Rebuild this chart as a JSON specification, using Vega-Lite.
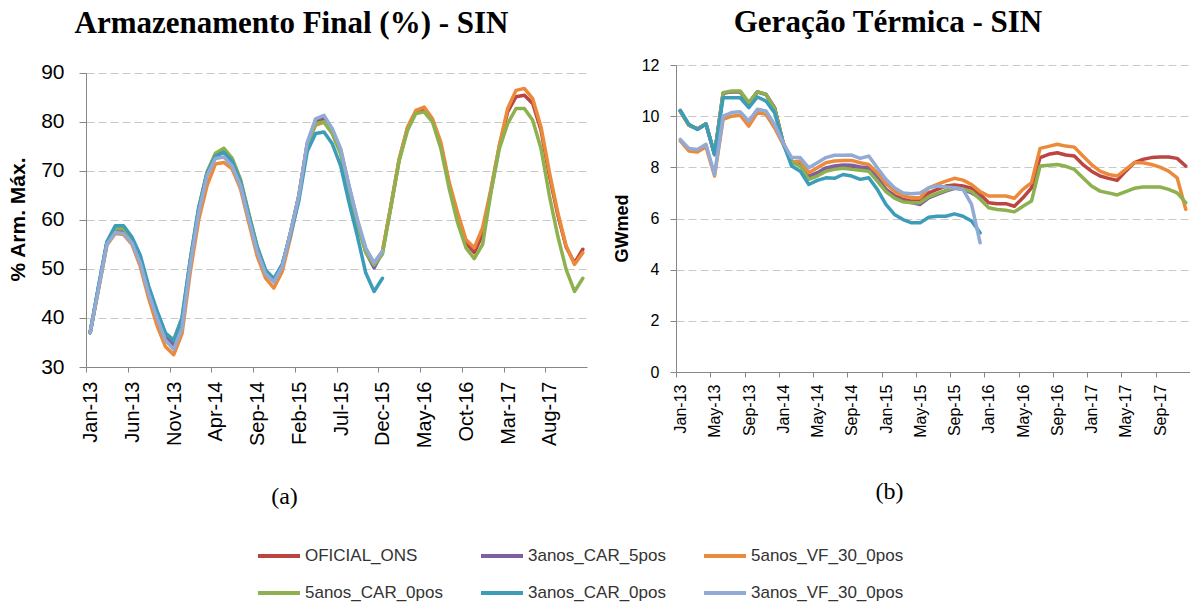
{
  "$schema": "https://vega.github.io/schema/vega-lite/v6.json",
  "padding": {"left": 7, "top": 7, "right": 0, "bottom": 0},
  "spacing": 26,
  "align": "none",
  "bounds": "full",
  "config": {
    "view": {"stroke": null},
    "font": "Liberation Sans",
    "axis": {"domainColor": "#868686", "tickColor": "#868686", "gridColor": "#C8C8C8", "gridDash": [8, 4], "labelColor": "#000000", "titleColor": "#000000", "labelFont": "Liberation Sans", "titleFont": "Liberation Sans"},
    "title": {"font": "Liberation Serif", "fontSize": 31, "fontWeight": "bold", "color": "#000000", "anchor": "middle", "baseline": "alphabetic", "frame": "group"}
  },
  "resolve": {"scale": {"x": "independent", "y": "independent", "color": "shared"}, "legend": {"color": "shared"}},
  "datasets": {
    "arm": [
      {"s":"OFICIAL_ONS","m":0,"v":37.0},{"s":"OFICIAL_ONS","m":1,"v":46.2},{"s":"OFICIAL_ONS","m":2,"v":55.3},{"s":"OFICIAL_ONS","m":3,"v":57.8},{"s":"OFICIAL_ONS","m":4,"v":57.6},{"s":"OFICIAL_ONS","m":5,"v":55.8},{"s":"OFICIAL_ONS","m":6,"v":51.8},{"s":"OFICIAL_ONS","m":7,"v":45.8},{"s":"OFICIAL_ONS","m":8,"v":40.8},{"s":"OFICIAL_ONS","m":9,"v":36.2},{"s":"OFICIAL_ONS","m":10,"v":34.5},{"s":"OFICIAL_ONS","m":11,"v":39.0},
      {"s":"OFICIAL_ONS","m":12,"v":51.5},{"s":"OFICIAL_ONS","m":13,"v":62.0},{"s":"OFICIAL_ONS","m":14,"v":69.5},{"s":"OFICIAL_ONS","m":15,"v":73.0},{"s":"OFICIAL_ONS","m":16,"v":73.8},{"s":"OFICIAL_ONS","m":17,"v":72.0},{"s":"OFICIAL_ONS","m":18,"v":67.8},{"s":"OFICIAL_ONS","m":19,"v":60.8},{"s":"OFICIAL_ONS","m":20,"v":54.0},{"s":"OFICIAL_ONS","m":21,"v":49.3},{"s":"OFICIAL_ONS","m":22,"v":47.5},{"s":"OFICIAL_ONS","m":23,"v":50.6},
      {"s":"OFICIAL_ONS","m":24,"v":57.4},{"s":"OFICIAL_ONS","m":25,"v":65.0},{"s":"OFICIAL_ONS","m":26,"v":75.4},{"s":"OFICIAL_ONS","m":27,"v":80.0},{"s":"OFICIAL_ONS","m":28,"v":80.6},{"s":"OFICIAL_ONS","m":29,"v":78.0},{"s":"OFICIAL_ONS","m":30,"v":73.8},{"s":"OFICIAL_ONS","m":31,"v":66.5},{"s":"OFICIAL_ONS","m":32,"v":59.5},{"s":"OFICIAL_ONS","m":33,"v":53.8},{"s":"OFICIAL_ONS","m":34,"v":51.0},{"s":"OFICIAL_ONS","m":35,"v":53.4},
      {"s":"OFICIAL_ONS","m":36,"v":62.6},{"s":"OFICIAL_ONS","m":37,"v":72.2},{"s":"OFICIAL_ONS","m":38,"v":78.6},{"s":"OFICIAL_ONS","m":39,"v":82.0},{"s":"OFICIAL_ONS","m":40,"v":82.6},{"s":"OFICIAL_ONS","m":41,"v":80.3},{"s":"OFICIAL_ONS","m":42,"v":75.3},{"s":"OFICIAL_ONS","m":43,"v":67.2},{"s":"OFICIAL_ONS","m":44,"v":60.8},{"s":"OFICIAL_ONS","m":45,"v":55.3},{"s":"OFICIAL_ONS","m":46,"v":53.3},{"s":"OFICIAL_ONS","m":47,"v":57.0},
      {"s":"OFICIAL_ONS","m":48,"v":66.0},{"s":"OFICIAL_ONS","m":49,"v":75.0},{"s":"OFICIAL_ONS","m":50,"v":82.0},{"s":"OFICIAL_ONS","m":51,"v":85.1},{"s":"OFICIAL_ONS","m":52,"v":85.4},{"s":"OFICIAL_ONS","m":53,"v":83.7},{"s":"OFICIAL_ONS","m":54,"v":78.2},{"s":"OFICIAL_ONS","m":55,"v":69.0},{"s":"OFICIAL_ONS","m":56,"v":61.0},{"s":"OFICIAL_ONS","m":57,"v":54.5},{"s":"OFICIAL_ONS","m":58,"v":51.2},{"s":"OFICIAL_ONS","m":59,"v":54.0},

      {"s":"3anos_CAR_5pos","m":0,"v":37.0},{"s":"3anos_CAR_5pos","m":1,"v":46.2},{"s":"3anos_CAR_5pos","m":2,"v":55.2},{"s":"3anos_CAR_5pos","m":3,"v":57.6},{"s":"3anos_CAR_5pos","m":4,"v":57.4},{"s":"3anos_CAR_5pos","m":5,"v":55.6},{"s":"3anos_CAR_5pos","m":6,"v":51.6},{"s":"3anos_CAR_5pos","m":7,"v":45.5},{"s":"3anos_CAR_5pos","m":8,"v":40.5},{"s":"3anos_CAR_5pos","m":9,"v":36.0},{"s":"3anos_CAR_5pos","m":10,"v":34.2},{"s":"3anos_CAR_5pos","m":11,"v":38.8},
      {"s":"3anos_CAR_5pos","m":12,"v":51.5},{"s":"3anos_CAR_5pos","m":13,"v":62.0},{"s":"3anos_CAR_5pos","m":14,"v":69.5},{"s":"3anos_CAR_5pos","m":15,"v":73.2},{"s":"3anos_CAR_5pos","m":16,"v":74.2},{"s":"3anos_CAR_5pos","m":17,"v":72.3},{"s":"3anos_CAR_5pos","m":18,"v":68.0},{"s":"3anos_CAR_5pos","m":19,"v":61.0},{"s":"3anos_CAR_5pos","m":20,"v":54.2},{"s":"3anos_CAR_5pos","m":21,"v":49.5},{"s":"3anos_CAR_5pos","m":22,"v":47.5},{"s":"3anos_CAR_5pos","m":23,"v":50.5},
      {"s":"3anos_CAR_5pos","m":24,"v":57.5},{"s":"3anos_CAR_5pos","m":25,"v":65.0},{"s":"3anos_CAR_5pos","m":26,"v":75.5},{"s":"3anos_CAR_5pos","m":27,"v":80.4},{"s":"3anos_CAR_5pos","m":28,"v":81.0},{"s":"3anos_CAR_5pos","m":29,"v":78.3},{"s":"3anos_CAR_5pos","m":30,"v":74.2},{"s":"3anos_CAR_5pos","m":31,"v":66.8},{"s":"3anos_CAR_5pos","m":32,"v":59.8},{"s":"3anos_CAR_5pos","m":33,"v":53.5},{"s":"3anos_CAR_5pos","m":34,"v":50.2},{"s":"3anos_CAR_5pos","m":35,"v":53.4},

      {"s":"5anos_VF_30_0pos","m":0,"v":37.0},{"s":"5anos_VF_30_0pos","m":1,"v":45.8},{"s":"5anos_VF_30_0pos","m":2,"v":54.8},{"s":"5anos_VF_30_0pos","m":3,"v":57.2},{"s":"5anos_VF_30_0pos","m":4,"v":57.0},{"s":"5anos_VF_30_0pos","m":5,"v":55.0},{"s":"5anos_VF_30_0pos","m":6,"v":50.5},{"s":"5anos_VF_30_0pos","m":7,"v":44.0},{"s":"5anos_VF_30_0pos","m":8,"v":38.5},{"s":"5anos_VF_30_0pos","m":9,"v":34.2},{"s":"5anos_VF_30_0pos","m":10,"v":32.5},{"s":"5anos_VF_30_0pos","m":11,"v":36.8},
      {"s":"5anos_VF_30_0pos","m":12,"v":49.5},{"s":"5anos_VF_30_0pos","m":13,"v":60.0},{"s":"5anos_VF_30_0pos","m":14,"v":67.0},{"s":"5anos_VF_30_0pos","m":15,"v":71.4},{"s":"5anos_VF_30_0pos","m":16,"v":71.7},{"s":"5anos_VF_30_0pos","m":17,"v":70.4},{"s":"5anos_VF_30_0pos","m":18,"v":66.3},{"s":"5anos_VF_30_0pos","m":19,"v":59.4},{"s":"5anos_VF_30_0pos","m":20,"v":52.6},{"s":"5anos_VF_30_0pos","m":21,"v":48.1},{"s":"5anos_VF_30_0pos","m":22,"v":46.1},{"s":"5anos_VF_30_0pos","m":23,"v":49.5},
      {"s":"5anos_VF_30_0pos","m":24,"v":56.5},{"s":"5anos_VF_30_0pos","m":25,"v":64.5},{"s":"5anos_VF_30_0pos","m":26,"v":75.5},{"s":"5anos_VF_30_0pos","m":27,"v":79.3},{"s":"5anos_VF_30_0pos","m":28,"v":79.9},{"s":"5anos_VF_30_0pos","m":29,"v":77.6},{"s":"5anos_VF_30_0pos","m":30,"v":73.8},{"s":"5anos_VF_30_0pos","m":31,"v":66.5},{"s":"5anos_VF_30_0pos","m":32,"v":59.5},{"s":"5anos_VF_30_0pos","m":33,"v":54.0},{"s":"5anos_VF_30_0pos","m":34,"v":51.2},{"s":"5anos_VF_30_0pos","m":35,"v":53.6},
      {"s":"5anos_VF_30_0pos","m":36,"v":62.8},{"s":"5anos_VF_30_0pos","m":37,"v":72.4},{"s":"5anos_VF_30_0pos","m":38,"v":78.9},{"s":"5anos_VF_30_0pos","m":39,"v":82.3},{"s":"5anos_VF_30_0pos","m":40,"v":83.0},{"s":"5anos_VF_30_0pos","m":41,"v":80.6},{"s":"5anos_VF_30_0pos","m":42,"v":75.8},{"s":"5anos_VF_30_0pos","m":43,"v":67.6},{"s":"5anos_VF_30_0pos","m":44,"v":61.5},{"s":"5anos_VF_30_0pos","m":45,"v":56.0},{"s":"5anos_VF_30_0pos","m":46,"v":54.3},{"s":"5anos_VF_30_0pos","m":47,"v":58.4},
      {"s":"5anos_VF_30_0pos","m":48,"v":66.3},{"s":"5anos_VF_30_0pos","m":49,"v":75.2},{"s":"5anos_VF_30_0pos","m":50,"v":82.7},{"s":"5anos_VF_30_0pos","m":51,"v":86.4},{"s":"5anos_VF_30_0pos","m":52,"v":86.8},{"s":"5anos_VF_30_0pos","m":53,"v":84.7},{"s":"5anos_VF_30_0pos","m":54,"v":78.9},{"s":"5anos_VF_30_0pos","m":55,"v":69.7},{"s":"5anos_VF_30_0pos","m":56,"v":61.5},{"s":"5anos_VF_30_0pos","m":57,"v":54.7},{"s":"5anos_VF_30_0pos","m":58,"v":50.9},{"s":"5anos_VF_30_0pos","m":59,"v":53.3},

      {"s":"5anos_CAR_0pos","m":0,"v":37.0},{"s":"5anos_CAR_0pos","m":1,"v":46.2},{"s":"5anos_CAR_0pos","m":2,"v":55.3},{"s":"5anos_CAR_0pos","m":3,"v":58.2},{"s":"5anos_CAR_0pos","m":4,"v":58.2},{"s":"5anos_CAR_0pos","m":5,"v":56.2},{"s":"5anos_CAR_0pos","m":6,"v":52.2},{"s":"5anos_CAR_0pos","m":7,"v":46.2},{"s":"5anos_CAR_0pos","m":8,"v":41.2},{"s":"5anos_CAR_0pos","m":9,"v":36.8},{"s":"5anos_CAR_0pos","m":10,"v":35.6},{"s":"5anos_CAR_0pos","m":11,"v":40.0},
      {"s":"5anos_CAR_0pos","m":12,"v":52.0},{"s":"5anos_CAR_0pos","m":13,"v":62.5},{"s":"5anos_CAR_0pos","m":14,"v":69.8},{"s":"5anos_CAR_0pos","m":15,"v":73.6},{"s":"5anos_CAR_0pos","m":16,"v":74.6},{"s":"5anos_CAR_0pos","m":17,"v":72.6},{"s":"5anos_CAR_0pos","m":18,"v":68.3},{"s":"5anos_CAR_0pos","m":19,"v":61.3},{"s":"5anos_CAR_0pos","m":20,"v":54.6},{"s":"5anos_CAR_0pos","m":21,"v":49.7},{"s":"5anos_CAR_0pos","m":22,"v":47.8},{"s":"5anos_CAR_0pos","m":23,"v":50.8},
      {"s":"5anos_CAR_0pos","m":24,"v":57.4},{"s":"5anos_CAR_0pos","m":25,"v":64.8},{"s":"5anos_CAR_0pos","m":26,"v":75.2},{"s":"5anos_CAR_0pos","m":27,"v":79.6},{"s":"5anos_CAR_0pos","m":28,"v":80.0},{"s":"5anos_CAR_0pos","m":29,"v":77.6},{"s":"5anos_CAR_0pos","m":30,"v":73.4},{"s":"5anos_CAR_0pos","m":31,"v":66.0},{"s":"5anos_CAR_0pos","m":32,"v":59.0},{"s":"5anos_CAR_0pos","m":33,"v":53.4},{"s":"5anos_CAR_0pos","m":34,"v":50.8},{"s":"5anos_CAR_0pos","m":35,"v":53.0},
      {"s":"5anos_CAR_0pos","m":36,"v":62.5},{"s":"5anos_CAR_0pos","m":37,"v":72.0},{"s":"5anos_CAR_0pos","m":38,"v":78.2},{"s":"5anos_CAR_0pos","m":39,"v":81.7},{"s":"5anos_CAR_0pos","m":40,"v":82.0},{"s":"5anos_CAR_0pos","m":41,"v":79.9},{"s":"5anos_CAR_0pos","m":42,"v":74.5},{"s":"5anos_CAR_0pos","m":43,"v":66.3},{"s":"5anos_CAR_0pos","m":44,"v":59.4},{"s":"5anos_CAR_0pos","m":45,"v":54.3},{"s":"5anos_CAR_0pos","m":46,"v":52.1},{"s":"5anos_CAR_0pos","m":47,"v":55.0},
      {"s":"5anos_CAR_0pos","m":48,"v":65.6},{"s":"5anos_CAR_0pos","m":49,"v":74.5},{"s":"5anos_CAR_0pos","m":50,"v":79.6},{"s":"5anos_CAR_0pos","m":51,"v":82.7},{"s":"5anos_CAR_0pos","m":52,"v":82.7},{"s":"5anos_CAR_0pos","m":53,"v":80.3},{"s":"5anos_CAR_0pos","m":54,"v":74.5},{"s":"5anos_CAR_0pos","m":55,"v":64.9},{"s":"5anos_CAR_0pos","m":56,"v":56.7},{"s":"5anos_CAR_0pos","m":57,"v":49.9},{"s":"5anos_CAR_0pos","m":58,"v":45.4},{"s":"5anos_CAR_0pos","m":59,"v":48.1},

      {"s":"3anos_CAR_0pos","m":0,"v":37.0},{"s":"3anos_CAR_0pos","m":1,"v":46.5},{"s":"3anos_CAR_0pos","m":2,"v":55.5},{"s":"3anos_CAR_0pos","m":3,"v":58.8},{"s":"3anos_CAR_0pos","m":4,"v":58.8},{"s":"3anos_CAR_0pos","m":5,"v":56.5},{"s":"3anos_CAR_0pos","m":6,"v":52.8},{"s":"3anos_CAR_0pos","m":7,"v":46.5},{"s":"3anos_CAR_0pos","m":8,"v":41.5},{"s":"3anos_CAR_0pos","m":9,"v":37.0},{"s":"3anos_CAR_0pos","m":10,"v":35.3},{"s":"3anos_CAR_0pos","m":11,"v":40.0},
      {"s":"3anos_CAR_0pos","m":12,"v":52.0},{"s":"3anos_CAR_0pos","m":13,"v":62.5},{"s":"3anos_CAR_0pos","m":14,"v":69.5},{"s":"3anos_CAR_0pos","m":15,"v":73.0},{"s":"3anos_CAR_0pos","m":16,"v":73.8},{"s":"3anos_CAR_0pos","m":17,"v":72.0},{"s":"3anos_CAR_0pos","m":18,"v":67.8},{"s":"3anos_CAR_0pos","m":19,"v":61.0},{"s":"3anos_CAR_0pos","m":20,"v":54.5},{"s":"3anos_CAR_0pos","m":21,"v":49.8},{"s":"3anos_CAR_0pos","m":22,"v":48.0},{"s":"3anos_CAR_0pos","m":23,"v":51.0},
      {"s":"3anos_CAR_0pos","m":24,"v":57.0},{"s":"3anos_CAR_0pos","m":25,"v":64.0},{"s":"3anos_CAR_0pos","m":26,"v":74.0},{"s":"3anos_CAR_0pos","m":27,"v":77.6},{"s":"3anos_CAR_0pos","m":28,"v":77.9},{"s":"3anos_CAR_0pos","m":29,"v":75.5},{"s":"3anos_CAR_0pos","m":30,"v":71.0},{"s":"3anos_CAR_0pos","m":31,"v":63.5},{"s":"3anos_CAR_0pos","m":32,"v":56.7},{"s":"3anos_CAR_0pos","m":33,"v":49.2},{"s":"3anos_CAR_0pos","m":34,"v":45.4},{"s":"3anos_CAR_0pos","m":35,"v":48.1},

      {"s":"3anos_VF_30_0pos","m":0,"v":37.0},{"s":"3anos_VF_30_0pos","m":1,"v":46.0},{"s":"3anos_VF_30_0pos","m":2,"v":55.0},{"s":"3anos_VF_30_0pos","m":3,"v":57.4},{"s":"3anos_VF_30_0pos","m":4,"v":57.2},{"s":"3anos_VF_30_0pos","m":5,"v":55.3},{"s":"3anos_VF_30_0pos","m":6,"v":51.2},{"s":"3anos_VF_30_0pos","m":7,"v":45.0},{"s":"3anos_VF_30_0pos","m":8,"v":40.0},{"s":"3anos_VF_30_0pos","m":9,"v":35.5},{"s":"3anos_VF_30_0pos","m":10,"v":33.6},{"s":"3anos_VF_30_0pos","m":11,"v":38.0},
      {"s":"3anos_VF_30_0pos","m":12,"v":51.0},{"s":"3anos_VF_30_0pos","m":13,"v":61.5},{"s":"3anos_VF_30_0pos","m":14,"v":69.0},{"s":"3anos_VF_30_0pos","m":15,"v":72.5},{"s":"3anos_VF_30_0pos","m":16,"v":72.8},{"s":"3anos_VF_30_0pos","m":17,"v":71.0},{"s":"3anos_VF_30_0pos","m":18,"v":67.0},{"s":"3anos_VF_30_0pos","m":19,"v":60.2},{"s":"3anos_VF_30_0pos","m":20,"v":53.6},{"s":"3anos_VF_30_0pos","m":21,"v":49.0},{"s":"3anos_VF_30_0pos","m":22,"v":47.3},{"s":"3anos_VF_30_0pos","m":23,"v":50.5},
      {"s":"3anos_VF_30_0pos","m":24,"v":57.5},{"s":"3anos_VF_30_0pos","m":25,"v":65.0},{"s":"3anos_VF_30_0pos","m":26,"v":75.8},{"s":"3anos_VF_30_0pos","m":27,"v":80.6},{"s":"3anos_VF_30_0pos","m":28,"v":81.3},{"s":"3anos_VF_30_0pos","m":29,"v":78.6},{"s":"3anos_VF_30_0pos","m":30,"v":74.5},{"s":"3anos_VF_30_0pos","m":31,"v":67.0},{"s":"3anos_VF_30_0pos","m":32,"v":60.1},{"s":"3anos_VF_30_0pos","m":33,"v":54.3},{"s":"3anos_VF_30_0pos","m":34,"v":51.2},{"s":"3anos_VF_30_0pos","m":35,"v":53.6}
    ],
    "ger": [
      {"s":"OFICIAL_ONS","m":0,"v":10.2},{"s":"OFICIAL_ONS","m":1,"v":9.65},{"s":"OFICIAL_ONS","m":2,"v":9.5},{"s":"OFICIAL_ONS","m":3,"v":9.7},{"s":"OFICIAL_ONS","m":4,"v":8.5},{"s":"OFICIAL_ONS","m":5,"v":10.9},{"s":"OFICIAL_ONS","m":6,"v":10.95},{"s":"OFICIAL_ONS","m":7,"v":10.95},{"s":"OFICIAL_ONS","m":8,"v":10.5},{"s":"OFICIAL_ONS","m":9,"v":10.95},{"s":"OFICIAL_ONS","m":10,"v":10.85},{"s":"OFICIAL_ONS","m":11,"v":10.33},
      {"s":"OFICIAL_ONS","m":12,"v":8.96},{"s":"OFICIAL_ONS","m":13,"v":8.22},{"s":"OFICIAL_ONS","m":14,"v":8.1},{"s":"OFICIAL_ONS","m":15,"v":7.62},{"s":"OFICIAL_ONS","m":16,"v":7.75},{"s":"OFICIAL_ONS","m":17,"v":7.95},{"s":"OFICIAL_ONS","m":18,"v":8.02},{"s":"OFICIAL_ONS","m":19,"v":8.05},{"s":"OFICIAL_ONS","m":20,"v":8.05},{"s":"OFICIAL_ONS","m":21,"v":7.98},{"s":"OFICIAL_ONS","m":22,"v":7.95},{"s":"OFICIAL_ONS","m":23,"v":7.58},
      {"s":"OFICIAL_ONS","m":24,"v":7.14},{"s":"OFICIAL_ONS","m":25,"v":6.9},{"s":"OFICIAL_ONS","m":26,"v":6.75},{"s":"OFICIAL_ONS","m":27,"v":6.68},{"s":"OFICIAL_ONS","m":28,"v":6.68},{"s":"OFICIAL_ONS","m":29,"v":7.0},{"s":"OFICIAL_ONS","m":30,"v":7.14},{"s":"OFICIAL_ONS","m":31,"v":7.27},{"s":"OFICIAL_ONS","m":32,"v":7.31},{"s":"OFICIAL_ONS","m":33,"v":7.27},{"s":"OFICIAL_ONS","m":34,"v":7.18},{"s":"OFICIAL_ONS","m":35,"v":6.95},
      {"s":"OFICIAL_ONS","m":36,"v":6.62},{"s":"OFICIAL_ONS","m":37,"v":6.58},{"s":"OFICIAL_ONS","m":38,"v":6.58},{"s":"OFICIAL_ONS","m":39,"v":6.48},{"s":"OFICIAL_ONS","m":40,"v":6.81},{"s":"OFICIAL_ONS","m":41,"v":7.2},{"s":"OFICIAL_ONS","m":42,"v":8.38},{"s":"OFICIAL_ONS","m":43,"v":8.51},{"s":"OFICIAL_ONS","m":44,"v":8.57},{"s":"OFICIAL_ONS","m":45,"v":8.48},{"s":"OFICIAL_ONS","m":46,"v":8.44},{"s":"OFICIAL_ONS","m":47,"v":8.11},
      {"s":"OFICIAL_ONS","m":48,"v":7.85},{"s":"OFICIAL_ONS","m":49,"v":7.66},{"s":"OFICIAL_ONS","m":50,"v":7.57},{"s":"OFICIAL_ONS","m":51,"v":7.49},{"s":"OFICIAL_ONS","m":52,"v":7.85},{"s":"OFICIAL_ONS","m":53,"v":8.18},{"s":"OFICIAL_ONS","m":54,"v":8.31},{"s":"OFICIAL_ONS","m":55,"v":8.38},{"s":"OFICIAL_ONS","m":56,"v":8.4},{"s":"OFICIAL_ONS","m":57,"v":8.4},{"s":"OFICIAL_ONS","m":58,"v":8.35},{"s":"OFICIAL_ONS","m":59,"v":8.05},

      {"s":"3anos_CAR_5pos","m":0,"v":10.2},{"s":"3anos_CAR_5pos","m":1,"v":9.65},{"s":"3anos_CAR_5pos","m":2,"v":9.5},{"s":"3anos_CAR_5pos","m":3,"v":9.7},{"s":"3anos_CAR_5pos","m":4,"v":8.5},{"s":"3anos_CAR_5pos","m":5,"v":10.9},{"s":"3anos_CAR_5pos","m":6,"v":10.95},{"s":"3anos_CAR_5pos","m":7,"v":10.95},{"s":"3anos_CAR_5pos","m":8,"v":10.5},{"s":"3anos_CAR_5pos","m":9,"v":10.95},{"s":"3anos_CAR_5pos","m":10,"v":10.85},{"s":"3anos_CAR_5pos","m":11,"v":10.33},
      {"s":"3anos_CAR_5pos","m":12,"v":8.96},{"s":"3anos_CAR_5pos","m":13,"v":8.2},{"s":"3anos_CAR_5pos","m":14,"v":8.1},{"s":"3anos_CAR_5pos","m":15,"v":7.66},{"s":"3anos_CAR_5pos","m":16,"v":7.79},{"s":"3anos_CAR_5pos","m":17,"v":7.98},{"s":"3anos_CAR_5pos","m":18,"v":8.05},{"s":"3anos_CAR_5pos","m":19,"v":8.09},{"s":"3anos_CAR_5pos","m":20,"v":8.08},{"s":"3anos_CAR_5pos","m":21,"v":8.01},{"s":"3anos_CAR_5pos","m":22,"v":7.98},{"s":"3anos_CAR_5pos","m":23,"v":7.6},
      {"s":"3anos_CAR_5pos","m":24,"v":7.14},{"s":"3anos_CAR_5pos","m":25,"v":6.84},{"s":"3anos_CAR_5pos","m":26,"v":6.68},{"s":"3anos_CAR_5pos","m":27,"v":6.62},{"s":"3anos_CAR_5pos","m":28,"v":6.55},{"s":"3anos_CAR_5pos","m":29,"v":6.81},{"s":"3anos_CAR_5pos","m":30,"v":6.94},{"s":"3anos_CAR_5pos","m":31,"v":7.07},{"s":"3anos_CAR_5pos","m":32,"v":7.18},{"s":"3anos_CAR_5pos","m":33,"v":7.14},{"s":"3anos_CAR_5pos","m":34,"v":7.0},{"s":"3anos_CAR_5pos","m":35,"v":6.81},

      {"s":"5anos_VF_30_0pos","m":0,"v":9.03},{"s":"5anos_VF_30_0pos","m":1,"v":8.64},{"s":"5anos_VF_30_0pos","m":2,"v":8.6},{"s":"5anos_VF_30_0pos","m":3,"v":8.8},{"s":"5anos_VF_30_0pos","m":4,"v":7.66},{"s":"5anos_VF_30_0pos","m":5,"v":9.87},{"s":"5anos_VF_30_0pos","m":6,"v":10.0},{"s":"5anos_VF_30_0pos","m":7,"v":10.04},{"s":"5anos_VF_30_0pos","m":8,"v":9.61},{"s":"5anos_VF_30_0pos","m":9,"v":10.14},{"s":"5anos_VF_30_0pos","m":10,"v":10.07},{"s":"5anos_VF_30_0pos","m":11,"v":9.55},
      {"s":"5anos_VF_30_0pos","m":12,"v":8.9},{"s":"5anos_VF_30_0pos","m":13,"v":8.2},{"s":"5anos_VF_30_0pos","m":14,"v":8.25},{"s":"5anos_VF_30_0pos","m":15,"v":7.79},{"s":"5anos_VF_30_0pos","m":16,"v":7.98},{"s":"5anos_VF_30_0pos","m":17,"v":8.18},{"s":"5anos_VF_30_0pos","m":18,"v":8.25},{"s":"5anos_VF_30_0pos","m":19,"v":8.27},{"s":"5anos_VF_30_0pos","m":20,"v":8.27},{"s":"5anos_VF_30_0pos","m":21,"v":8.18},{"s":"5anos_VF_30_0pos","m":22,"v":8.11},{"s":"5anos_VF_30_0pos","m":23,"v":7.79},
      {"s":"5anos_VF_30_0pos","m":24,"v":7.36},{"s":"5anos_VF_30_0pos","m":25,"v":7.07},{"s":"5anos_VF_30_0pos","m":26,"v":6.88},{"s":"5anos_VF_30_0pos","m":27,"v":6.81},{"s":"5anos_VF_30_0pos","m":28,"v":6.81},{"s":"5anos_VF_30_0pos","m":29,"v":7.2},{"s":"5anos_VF_30_0pos","m":30,"v":7.33},{"s":"5anos_VF_30_0pos","m":31,"v":7.46},{"s":"5anos_VF_30_0pos","m":32,"v":7.57},{"s":"5anos_VF_30_0pos","m":33,"v":7.5},{"s":"5anos_VF_30_0pos","m":34,"v":7.33},{"s":"5anos_VF_30_0pos","m":35,"v":7.05},
      {"s":"5anos_VF_30_0pos","m":36,"v":6.88},{"s":"5anos_VF_30_0pos","m":37,"v":6.88},{"s":"5anos_VF_30_0pos","m":38,"v":6.88},{"s":"5anos_VF_30_0pos","m":39,"v":6.79},{"s":"5anos_VF_30_0pos","m":40,"v":7.14},{"s":"5anos_VF_30_0pos","m":41,"v":7.4},{"s":"5anos_VF_30_0pos","m":42,"v":8.74},{"s":"5anos_VF_30_0pos","m":43,"v":8.82},{"s":"5anos_VF_30_0pos","m":44,"v":8.9},{"s":"5anos_VF_30_0pos","m":45,"v":8.83},{"s":"5anos_VF_30_0pos","m":46,"v":8.79},{"s":"5anos_VF_30_0pos","m":47,"v":8.44},
      {"s":"5anos_VF_30_0pos","m":48,"v":8.11},{"s":"5anos_VF_30_0pos","m":49,"v":7.85},{"s":"5anos_VF_30_0pos","m":50,"v":7.72},{"s":"5anos_VF_30_0pos","m":51,"v":7.66},{"s":"5anos_VF_30_0pos","m":52,"v":7.92},{"s":"5anos_VF_30_0pos","m":53,"v":8.18},{"s":"5anos_VF_30_0pos","m":54,"v":8.18},{"s":"5anos_VF_30_0pos","m":55,"v":8.11},{"s":"5anos_VF_30_0pos","m":56,"v":8.01},{"s":"5anos_VF_30_0pos","m":57,"v":7.85},{"s":"5anos_VF_30_0pos","m":58,"v":7.59},{"s":"5anos_VF_30_0pos","m":59,"v":6.36},

      {"s":"5anos_CAR_0pos","m":0,"v":10.2},{"s":"5anos_CAR_0pos","m":1,"v":9.65},{"s":"5anos_CAR_0pos","m":2,"v":9.5},{"s":"5anos_CAR_0pos","m":3,"v":9.7},{"s":"5anos_CAR_0pos","m":4,"v":8.5},{"s":"5anos_CAR_0pos","m":5,"v":10.92},{"s":"5anos_CAR_0pos","m":6,"v":10.98},{"s":"5anos_CAR_0pos","m":7,"v":10.98},{"s":"5anos_CAR_0pos","m":8,"v":10.53},{"s":"5anos_CAR_0pos","m":9,"v":10.96},{"s":"5anos_CAR_0pos","m":10,"v":10.85},{"s":"5anos_CAR_0pos","m":11,"v":10.3},
      {"s":"5anos_CAR_0pos","m":12,"v":8.96},{"s":"5anos_CAR_0pos","m":13,"v":8.2},{"s":"5anos_CAR_0pos","m":14,"v":8.05},{"s":"5anos_CAR_0pos","m":15,"v":7.53},{"s":"5anos_CAR_0pos","m":16,"v":7.66},{"s":"5anos_CAR_0pos","m":17,"v":7.85},{"s":"5anos_CAR_0pos","m":18,"v":7.92},{"s":"5anos_CAR_0pos","m":19,"v":7.96},{"s":"5anos_CAR_0pos","m":20,"v":7.92},{"s":"5anos_CAR_0pos","m":21,"v":7.89},{"s":"5anos_CAR_0pos","m":22,"v":7.85},{"s":"5anos_CAR_0pos","m":23,"v":7.46},
      {"s":"5anos_CAR_0pos","m":24,"v":7.05},{"s":"5anos_CAR_0pos","m":25,"v":6.8},{"s":"5anos_CAR_0pos","m":26,"v":6.65},{"s":"5anos_CAR_0pos","m":27,"v":6.62},{"s":"5anos_CAR_0pos","m":28,"v":6.62},{"s":"5anos_CAR_0pos","m":29,"v":6.85},{"s":"5anos_CAR_0pos","m":30,"v":6.98},{"s":"5anos_CAR_0pos","m":31,"v":7.1},{"s":"5anos_CAR_0pos","m":32,"v":7.2},{"s":"5anos_CAR_0pos","m":33,"v":7.15},{"s":"5anos_CAR_0pos","m":34,"v":7.05},{"s":"5anos_CAR_0pos","m":35,"v":6.75},
      {"s":"5anos_CAR_0pos","m":36,"v":6.42},{"s":"5anos_CAR_0pos","m":37,"v":6.35},{"s":"5anos_CAR_0pos","m":38,"v":6.32},{"s":"5anos_CAR_0pos","m":39,"v":6.26},{"s":"5anos_CAR_0pos","m":40,"v":6.48},{"s":"5anos_CAR_0pos","m":41,"v":6.68},{"s":"5anos_CAR_0pos","m":42,"v":8.05},{"s":"5anos_CAR_0pos","m":43,"v":8.08},{"s":"5anos_CAR_0pos","m":44,"v":8.11},{"s":"5anos_CAR_0pos","m":45,"v":8.04},{"s":"5anos_CAR_0pos","m":46,"v":7.92},{"s":"5anos_CAR_0pos","m":47,"v":7.59},
      {"s":"5anos_CAR_0pos","m":48,"v":7.27},{"s":"5anos_CAR_0pos","m":49,"v":7.07},{"s":"5anos_CAR_0pos","m":50,"v":7.0},{"s":"5anos_CAR_0pos","m":51,"v":6.92},{"s":"5anos_CAR_0pos","m":52,"v":7.05},{"s":"5anos_CAR_0pos","m":53,"v":7.18},{"s":"5anos_CAR_0pos","m":54,"v":7.23},{"s":"5anos_CAR_0pos","m":55,"v":7.23},{"s":"5anos_CAR_0pos","m":56,"v":7.23},{"s":"5anos_CAR_0pos","m":57,"v":7.14},{"s":"5anos_CAR_0pos","m":58,"v":7.0},{"s":"5anos_CAR_0pos","m":59,"v":6.62},

      {"s":"3anos_CAR_0pos","m":0,"v":10.23},{"s":"3anos_CAR_0pos","m":1,"v":9.68},{"s":"3anos_CAR_0pos","m":2,"v":9.48},{"s":"3anos_CAR_0pos","m":3,"v":9.68},{"s":"3anos_CAR_0pos","m":4,"v":8.5},{"s":"3anos_CAR_0pos","m":5,"v":10.72},{"s":"3anos_CAR_0pos","m":6,"v":10.72},{"s":"3anos_CAR_0pos","m":7,"v":10.72},{"s":"3anos_CAR_0pos","m":8,"v":10.33},{"s":"3anos_CAR_0pos","m":9,"v":10.75},{"s":"3anos_CAR_0pos","m":10,"v":10.59},{"s":"3anos_CAR_0pos","m":11,"v":10.14},
      {"s":"3anos_CAR_0pos","m":12,"v":8.96},{"s":"3anos_CAR_0pos","m":13,"v":8.05},{"s":"3anos_CAR_0pos","m":14,"v":7.85},{"s":"3anos_CAR_0pos","m":15,"v":7.33},{"s":"3anos_CAR_0pos","m":16,"v":7.49},{"s":"3anos_CAR_0pos","m":17,"v":7.59},{"s":"3anos_CAR_0pos","m":18,"v":7.57},{"s":"3anos_CAR_0pos","m":19,"v":7.72},{"s":"3anos_CAR_0pos","m":20,"v":7.66},{"s":"3anos_CAR_0pos","m":21,"v":7.53},{"s":"3anos_CAR_0pos","m":22,"v":7.59},{"s":"3anos_CAR_0pos","m":23,"v":7.14},
      {"s":"3anos_CAR_0pos","m":24,"v":6.55},{"s":"3anos_CAR_0pos","m":25,"v":6.16},{"s":"3anos_CAR_0pos","m":26,"v":5.96},{"s":"3anos_CAR_0pos","m":27,"v":5.83},{"s":"3anos_CAR_0pos","m":28,"v":5.83},{"s":"3anos_CAR_0pos","m":29,"v":6.05},{"s":"3anos_CAR_0pos","m":30,"v":6.09},{"s":"3anos_CAR_0pos","m":31,"v":6.09},{"s":"3anos_CAR_0pos","m":32,"v":6.18},{"s":"3anos_CAR_0pos","m":33,"v":6.09},{"s":"3anos_CAR_0pos","m":34,"v":5.9},{"s":"3anos_CAR_0pos","m":35,"v":5.44},

      {"s":"3anos_VF_30_0pos","m":0,"v":9.09},{"s":"3anos_VF_30_0pos","m":1,"v":8.74},{"s":"3anos_VF_30_0pos","m":2,"v":8.7},{"s":"3anos_VF_30_0pos","m":3,"v":8.9},{"s":"3anos_VF_30_0pos","m":4,"v":7.72},{"s":"3anos_VF_30_0pos","m":5,"v":10.0},{"s":"3anos_VF_30_0pos","m":6,"v":10.14},{"s":"3anos_VF_30_0pos","m":7,"v":10.17},{"s":"3anos_VF_30_0pos","m":8,"v":9.81},{"s":"3anos_VF_30_0pos","m":9,"v":10.27},{"s":"3anos_VF_30_0pos","m":10,"v":10.2},{"s":"3anos_VF_30_0pos","m":11,"v":9.68},
      {"s":"3anos_VF_30_0pos","m":12,"v":8.96},{"s":"3anos_VF_30_0pos","m":13,"v":8.38},{"s":"3anos_VF_30_0pos","m":14,"v":8.38},{"s":"3anos_VF_30_0pos","m":15,"v":7.98},{"s":"3anos_VF_30_0pos","m":16,"v":8.18},{"s":"3anos_VF_30_0pos","m":17,"v":8.38},{"s":"3anos_VF_30_0pos","m":18,"v":8.47},{"s":"3anos_VF_30_0pos","m":19,"v":8.47},{"s":"3anos_VF_30_0pos","m":20,"v":8.48},{"s":"3anos_VF_30_0pos","m":21,"v":8.35},{"s":"3anos_VF_30_0pos","m":22,"v":8.44},{"s":"3anos_VF_30_0pos","m":23,"v":7.98},
      {"s":"3anos_VF_30_0pos","m":24,"v":7.53},{"s":"3anos_VF_30_0pos","m":25,"v":7.2},{"s":"3anos_VF_30_0pos","m":26,"v":7.0},{"s":"3anos_VF_30_0pos","m":27,"v":6.97},{"s":"3anos_VF_30_0pos","m":28,"v":7.0},{"s":"3anos_VF_30_0pos","m":29,"v":7.2},{"s":"3anos_VF_30_0pos","m":30,"v":7.27},{"s":"3anos_VF_30_0pos","m":31,"v":7.23},{"s":"3anos_VF_30_0pos","m":32,"v":7.2},{"s":"3anos_VF_30_0pos","m":33,"v":7.14},{"s":"3anos_VF_30_0pos","m":34,"v":6.55},{"s":"3anos_VF_30_0pos","m":35,"v":5.05}
    ]
  },
  "hconcat": [
    {
      "width": 501,
      "height": 302,
      "title": {"text": "Armazenamento Final (%) - SIN", "dx": -45, "offset": 22},
      "data": {"name": "arm"},
      "mark": {"type": "line", "strokeWidth": 3.5, "strokeJoin": "round", "strokeCap": "round"},
      "encoding": {
        "x": {
          "field": "m", "type": "quantitative",
          "scale": {"domain": [-0.5, 59.5], "nice": false, "zero": false},
          "axis": {
            "values": [-0.5, 4.5, 9.5, 14.5, 19.5, 24.5, 29.5, 34.5, 39.5, 44.5, 49.5, 54.5],
            "labelExpr": "['Jan','Feb','Mar','Apr','May','Jun','Jul','Aug','Sep','Oct','Nov','Dec'][(datum.value+0.5)%12] + '-' + (13 + floor((datum.value+0.5)/12))",
            "labelAngle": -90, "labelAlign": "right", "labelBaseline": "middle",
            "labelOffset": 4.5, "labelFontSize": 20, "labelPadding": 9, "tickSize": 5,
            "grid": false, "labelFlush": false, "labelOverlap": false, "labelBound": false,
            "title": "(a)", "titleFont": "Liberation Serif", "titleFontSize": 24, "titleFontWeight": "normal",
            "titleX": 198, "titleY": 129, "titleAlign": "center", "titleBaseline": "middle", "titleAngle": 0
          }
        },
        "y": {
          "field": "v", "type": "quantitative",
          "scale": {"domain": [30, 90], "nice": false, "zero": false, "range": [302, 7.7]},
          "axis": {
            "values": [30, 40, 50, 60, 70, 80, 90],
            "labelFontSize": 21, "tickSize": 7, "labelPadding": 15, "grid": true,
            "title": "% Arm. Máx.", "titleFontSize": 21, "titleFontWeight": "bold",
            "titleX": -68, "titleY": 154, "titleAngle": -90, "titleAlign": "center", "titleBaseline": "middle"
          }
        },
        "color": {
          "field": "s", "type": "nominal",
          "scale": {
            "domain": ["OFICIAL_ONS", "3anos_CAR_5pos", "5anos_VF_30_0pos", "5anos_CAR_0pos", "3anos_CAR_0pos", "3anos_VF_30_0pos"],
            "range": ["#BC4542", "#7E5FA1", "#EC8A3C", "#8DB14F", "#3D9DB9", "#92AAD6"]
          },
          "legend": {
            "title": null, "orient": "none", "legendX": 170, "legendY": 479,
            "direction": "horizontal", "columns": 3,
            "symbolType": "stroke", "symbolSize": 1764, "symbolStrokeWidth": 4,
            "labelFontSize": 17, "labelColor": "#333333", "labelFont": "Liberation Sans",
            "labelOffset": 3, "columnPadding": 36, "rowPadding": 13, "clipHeight": 24,
            "labelLimit": 300, "padding": 0
          }
        }
      }
    },
    {
      "width": 514,
      "height": 307,
      "title": {"text": "Geração Térmica - SIN", "dx": -45, "offset": 18},
      "data": {"name": "ger"},
      "mark": {"type": "line", "strokeWidth": 3.5, "strokeJoin": "round", "strokeCap": "round"},
      "encoding": {
        "x": {
          "field": "m", "type": "quantitative",
          "scale": {"domain": [-0.5, 59.5], "nice": false, "zero": false},
          "axis": {
            "values": [-0.5, 3.5, 7.5, 11.5, 15.5, 19.5, 23.5, 27.5, 31.5, 35.5, 39.5, 43.5, 47.5, 51.5, 55.5],
            "labelExpr": "['Jan','Feb','Mar','Apr','May','Jun','Jul','Aug','Sep','Oct','Nov','Dec'][(datum.value+0.5)%12] + '-' + (13 + floor((datum.value+0.5)/12))",
            "labelAngle": -90, "labelAlign": "right", "labelBaseline": "middle",
            "labelOffset": 4.5, "labelFontSize": 16, "labelPadding": 7, "tickSize": 5,
            "grid": false, "labelFlush": false, "labelOverlap": false, "labelBound": false,
            "title": "(b)", "titleFont": "Liberation Serif", "titleFontSize": 24, "titleFontWeight": "normal",
            "titleX": 213, "titleY": 119, "titleAlign": "center", "titleBaseline": "middle", "titleAngle": 0
          }
        },
        "y": {
          "field": "v", "type": "quantitative",
          "scale": {"domain": [0, 12], "nice": false, "zero": true},
          "axis": {
            "values": [0, 2, 4, 6, 8, 10, 12],
            "labelFontSize": 16, "tickSize": 6, "labelPadding": 11, "grid": true,
            "title": "GWmed", "titleFontSize": 18, "titleFontWeight": "bold",
            "titleX": -54, "titleY": 163, "titleAngle": -90, "titleAlign": "center", "titleBaseline": "middle"
          }
        },
        "color": {
          "field": "s", "type": "nominal",
          "scale": {
            "domain": ["OFICIAL_ONS", "3anos_CAR_5pos", "5anos_VF_30_0pos", "5anos_CAR_0pos", "3anos_CAR_0pos", "3anos_VF_30_0pos"],
            "range": ["#BC4542", "#7E5FA1", "#EC8A3C", "#8DB14F", "#3D9DB9", "#92AAD6"]
          },
          "legend": {
            "title": null, "orient": "none", "legendX": 170, "legendY": 479,
            "direction": "horizontal", "columns": 3,
            "symbolType": "stroke", "symbolSize": 1764, "symbolStrokeWidth": 4,
            "labelFontSize": 17, "labelColor": "#333333", "labelFont": "Liberation Sans",
            "labelOffset": 3, "columnPadding": 36, "rowPadding": 13, "clipHeight": 24,
            "labelLimit": 300, "padding": 0
          }
        }
      }
    }
  ]
}
